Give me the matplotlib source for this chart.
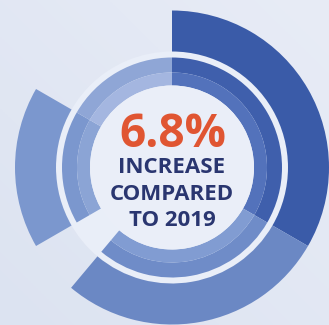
import numpy as np
import matplotlib.pyplot as plt

# ── data: ring segments in degrees, clockwise from 12 o'clock ─────────────
seg_degrees = [120, 100, 20, 60, 60]   # dark, bottom, gap, left, top-left
outer_colors = ["#3a5ba8", "#6b88c4", "none", "#7b97ce", "none"]
mid_outer_colors = ["#3f5fac", "#6f8cc8", "none", "#7b97ce", "#8fa6d6"]
mid_inner_colors = ["#5372bb", "#819cd2", "none", "#8ba4d5", "#a4b6e0"]

big_label = "6.8%"
sub_lines = ["INCREASE", "COMPARED", "TO 2019"]

# ── figure ────────────────────────────────────────────────────────────────
W, H = 329, 325
fig = plt.figure(figsize=(W / 100, H / 100), dpi=100)
ax = fig.add_axes([0, 0, 1, 1])

xlim = (-172, 157)
ylim = (-157.5, 167.5)

# soft diagonal background
gx, gy = np.meshgrid(np.linspace(0, 1, 200), np.linspace(0, 1, 200))
g = (gx + gy) / 2
c0 = np.array([0xdc, 0xe3, 0xf1]) / 255
c1 = np.array([0xe8, 0xec, 0xf6]) / 255
bg = c0[None, None, :] * (1 - g[..., None]) + c1[None, None, :] * g[..., None]
ax.imshow(bg, extent=(*xlim, ylim[1], ylim[0]), zorder=0, aspect="auto")

# light gap ring + inner disk
ax.add_patch(plt.Circle((0, 0), 116, color="#e9eef8", lw=0, zorder=1))

wp = dict(linewidth=0)
ax.pie(seg_degrees, radius=157, colors=outer_colors, startangle=90,
       counterclock=False, wedgeprops=dict(width=41, **wp))
ax.pie(seg_degrees, radius=110, colors=mid_outer_colors, startangle=90,
       counterclock=False, wedgeprops=dict(width=15, **wp))
ax.pie(seg_degrees, radius=95, colors=mid_inner_colors, startangle=90,
       counterclock=False, wedgeprops=dict(width=13, **wp))

ax.add_patch(plt.Circle((0, 0), 82, color="#eaeef8", lw=0, zorder=1.5))

# ── text ──────────────────────────────────────────────────────────────────
ax.text(0.5, 20.5, big_label, ha="center", va="baseline", fontsize=33,
        fontweight="bold", family="Open Sans", color="#e05532", zorder=5)
for i, line in enumerate(sub_lines):
    ax.text(0, -5.5 - 26.5 * i, line, ha="center", va="baseline", fontsize=16,
            fontweight="bold", family="Open Sans", color="#2a3670", zorder=5)

ax.set_xlim(*xlim)
ax.set_ylim(*ylim)
ax.set_aspect("equal")
ax.axis("off")

plt.savefig("out.png", dpi=100)
